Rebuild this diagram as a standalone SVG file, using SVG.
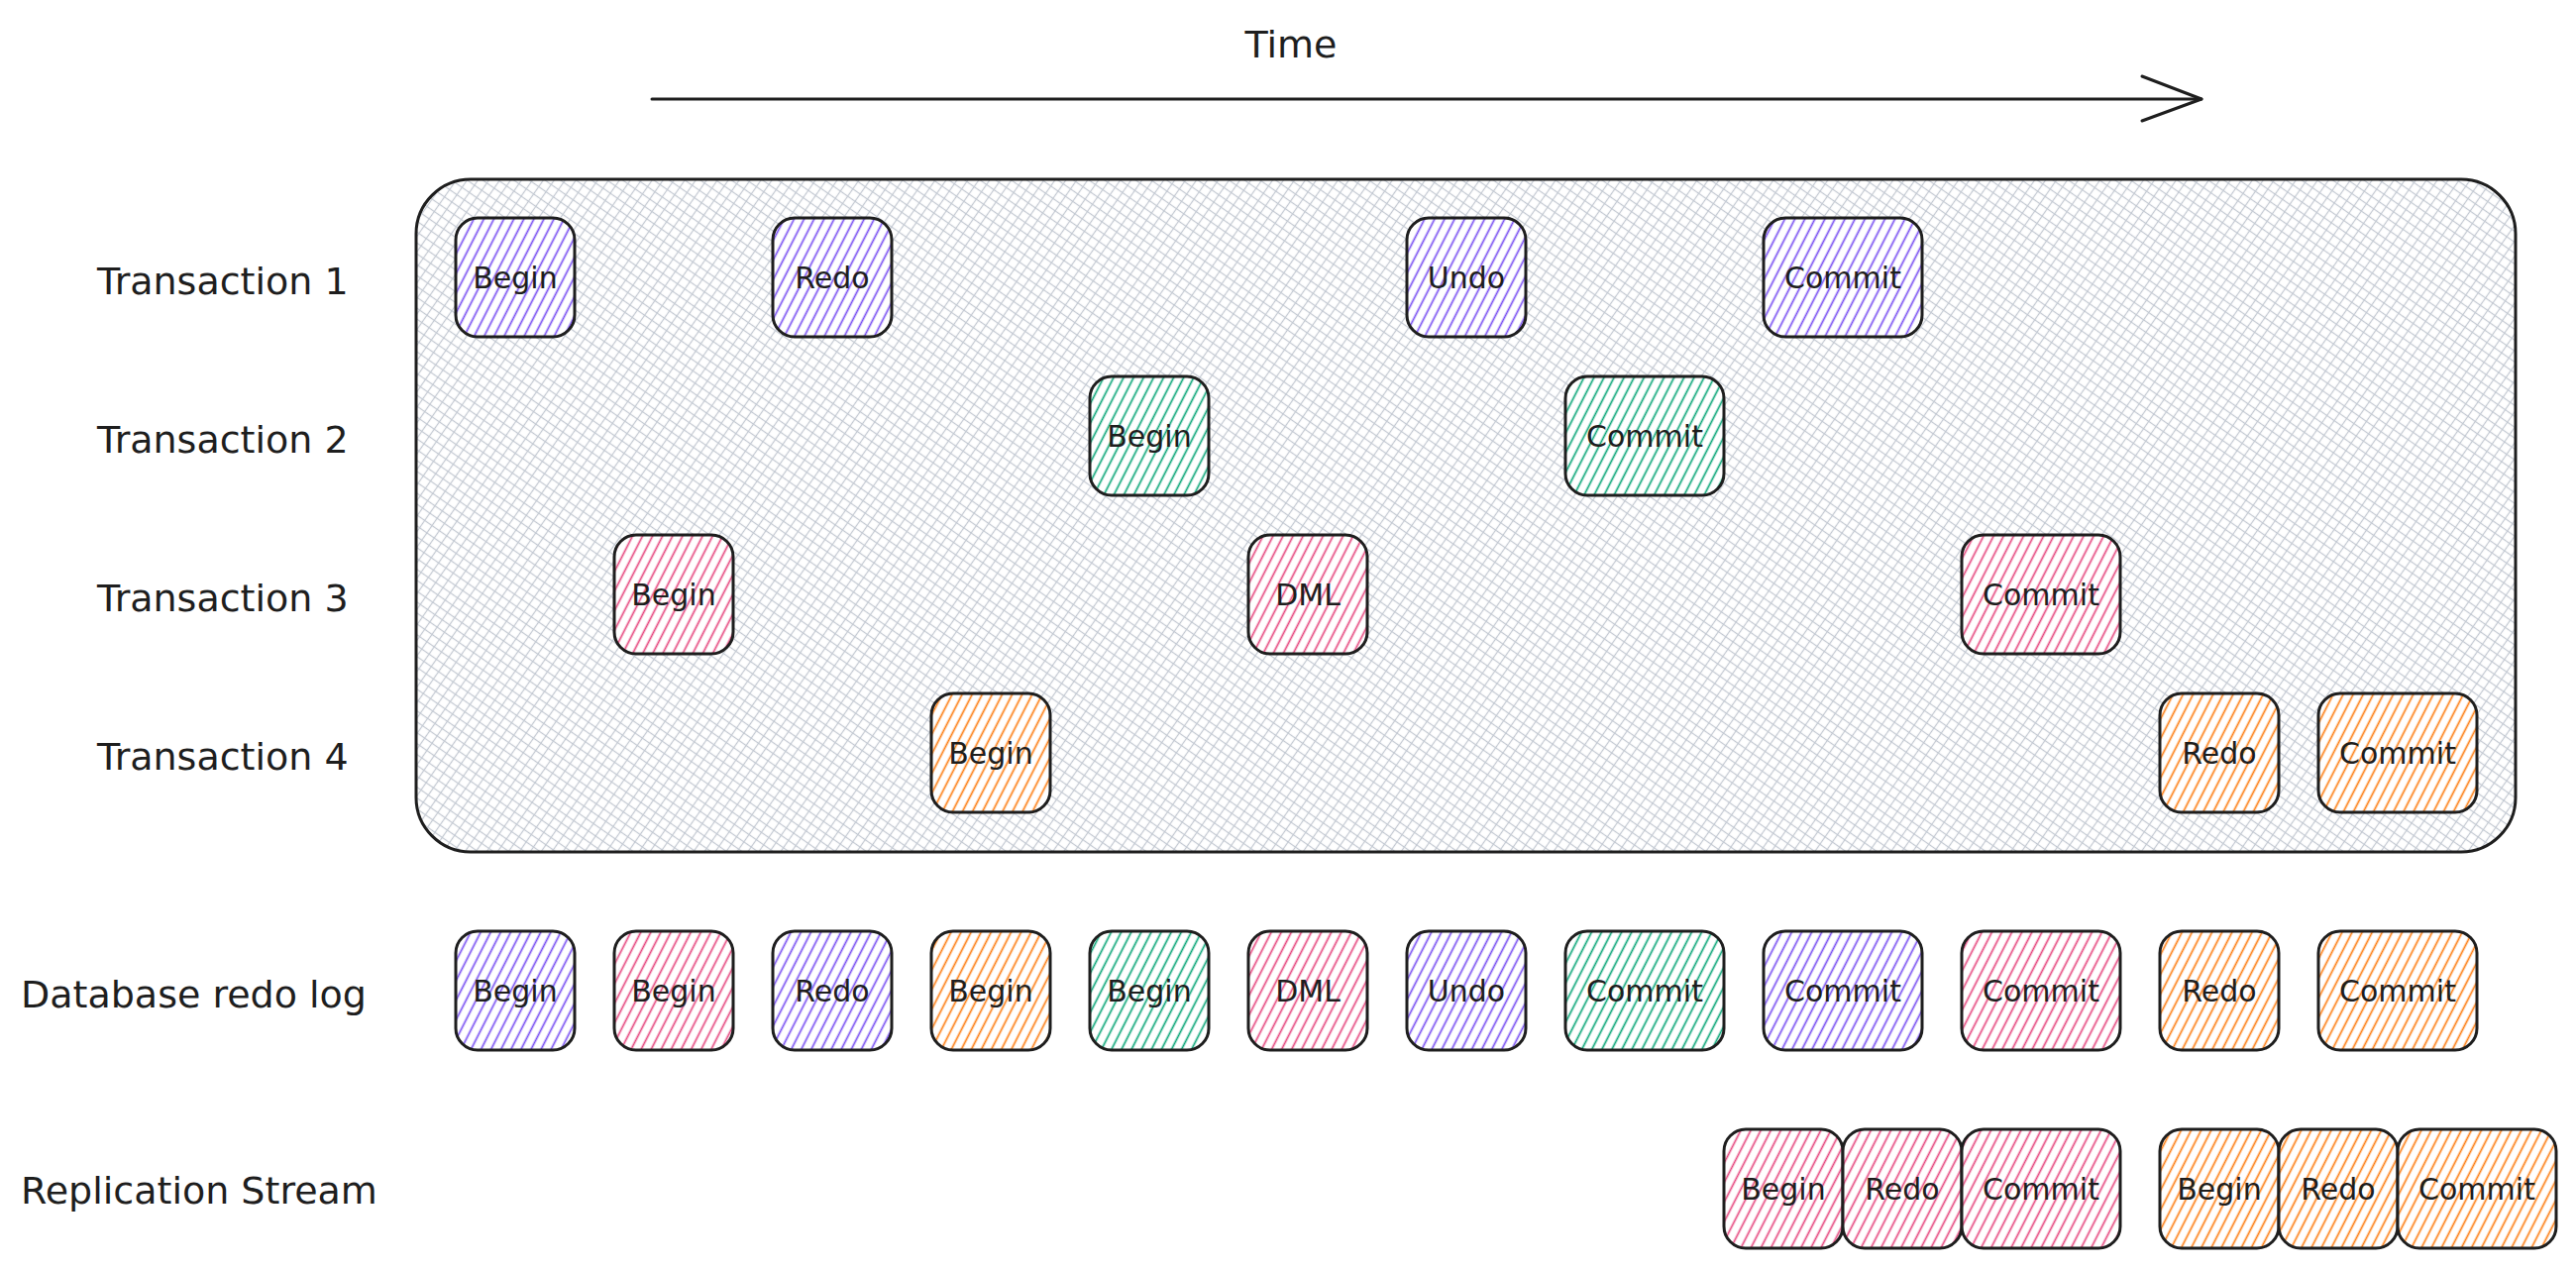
<svg xmlns="http://www.w3.org/2000/svg" width="2600" height="1280" viewBox="0 0 2600 1280">
<defs>
<style>
text{font-family:"DejaVu Sans","Liberation Sans",sans-serif;fill:#1e1e1e}
.lbl{font-size:38px}
.bt{font-size:30px;text-anchor:middle}
.box{stroke:#1e1e1e;stroke-width:3;stroke-linejoin:round}
.p{fill:url(#hP)}
.g{fill:url(#hG)}
.k{fill:url(#hK)}
.o{fill:url(#hO)}
.conn{stroke:#1e1e1e;stroke-width:3;fill:none;stroke-linecap:round}
</style>
<pattern id="hP" width="9" height="9" patternUnits="userSpaceOnUse" patternTransform="rotate(27)"><rect width="9" height="9" fill="#fff"/><line x1="4.5" y1="0" x2="4.5" y2="9" stroke="#7950f2" stroke-width="1.7"/></pattern>
<pattern id="hG" width="9" height="9" patternUnits="userSpaceOnUse" patternTransform="rotate(27)"><rect width="9" height="9" fill="#fff"/><line x1="4.5" y1="0" x2="4.5" y2="9" stroke="#0ca678" stroke-width="1.7"/></pattern>
<pattern id="hK" width="9" height="9" patternUnits="userSpaceOnUse" patternTransform="rotate(27)"><rect width="9" height="9" fill="#fff"/><line x1="4.5" y1="0" x2="4.5" y2="9" stroke="#e64980" stroke-width="1.7"/></pattern>
<pattern id="hO" width="9" height="9" patternUnits="userSpaceOnUse" patternTransform="rotate(27)"><rect width="9" height="9" fill="#fff"/><line x1="4.5" y1="0" x2="4.5" y2="9" stroke="#fd7e14" stroke-width="1.7"/></pattern>
<pattern id="xh" width="9" height="9" patternUnits="userSpaceOnUse" patternTransform="rotate(35)"><rect width="9" height="9" fill="#fff"/><line x1="0" y1="4.5" x2="9" y2="4.5" stroke="#c3c9d2" stroke-width="1.2"/><line x1="4.5" y1="0" x2="4.5" y2="9" stroke="#c3c9d2" stroke-width="1.2"/></pattern>
<marker id="arr" viewBox="0 0 64 50" refX="62" refY="25" markerWidth="64" markerHeight="50" markerUnits="userSpaceOnUse" orient="auto"><polyline points="2,2 62,25 2,47" fill="none" stroke="#1e1e1e" stroke-width="3" stroke-linecap="round" stroke-linejoin="round"/></marker>
</defs>
<rect width="2600" height="1280" fill="#fff"/>

<g id="time-label"><text class="lbl" x="1303" y="58" text-anchor="middle">Time</text></g>

<g id="connectors">
<line class="conn" x1="658" y1="100" x2="2222" y2="100" marker-end="url(#arr)"/>
</g>

<g id="transactions-frame"><rect x="420" y="181" width="2119" height="679" rx="55" fill="url(#xh)" class="box"/></g>

<g id="labels">
<text class="lbl" x="98" y="297">Transaction 1</text>
<text class="lbl" x="98" y="457">Transaction 2</text>
<text class="lbl" x="98" y="617">Transaction 3</text>
<text class="lbl" x="98" y="777">Transaction 4</text>
<text class="lbl" x="21" y="1017">Database redo log</text>
<text class="lbl" x="21" y="1215">Replication Stream</text>
</g>

<g id="t1-begin"><rect class="box p" x="460" y="220" width="120" height="120" rx="22"/><text class="bt" x="520" y="291">Begin</text></g>
<g id="t1-redo"><rect class="box p" x="780" y="220" width="120" height="120" rx="22"/><text class="bt" x="840" y="291">Redo</text></g>
<g id="t1-undo"><rect class="box p" x="1420" y="220" width="120" height="120" rx="22"/><text class="bt" x="1480" y="291">Undo</text></g>
<g id="t1-commit"><rect class="box p" x="1780" y="220" width="160" height="120" rx="22"/><text class="bt" x="1860" y="291">Commit</text></g>

<g id="t2-begin"><rect class="box g" x="1100" y="380" width="120" height="120" rx="22"/><text class="bt" x="1160" y="451">Begin</text></g>
<g id="t2-commit"><rect class="box g" x="1580" y="380" width="160" height="120" rx="22"/><text class="bt" x="1660" y="451">Commit</text></g>

<g id="t3-begin"><rect class="box k" x="620" y="540" width="120" height="120" rx="22"/><text class="bt" x="680" y="611">Begin</text></g>
<g id="t3-dml"><rect class="box k" x="1260" y="540" width="120" height="120" rx="22"/><text class="bt" x="1320" y="611">DML</text></g>
<g id="t3-commit"><rect class="box k" x="1980" y="540" width="160" height="120" rx="22"/><text class="bt" x="2060" y="611">Commit</text></g>

<g id="t4-begin"><rect class="box o" x="940" y="700" width="120" height="120" rx="22"/><text class="bt" x="1000" y="771">Begin</text></g>
<g id="t4-redo"><rect class="box o" x="2180" y="700" width="120" height="120" rx="22"/><text class="bt" x="2240" y="771">Redo</text></g>
<g id="t4-commit"><rect class="box o" x="2340" y="700" width="160" height="120" rx="22"/><text class="bt" x="2420" y="771">Commit</text></g>

<g id="log-1"><rect class="box p" x="460" y="940" width="120" height="120" rx="22"/><text class="bt" x="520" y="1011">Begin</text></g>
<g id="log-2"><rect class="box k" x="620" y="940" width="120" height="120" rx="22"/><text class="bt" x="680" y="1011">Begin</text></g>
<g id="log-3"><rect class="box p" x="780" y="940" width="120" height="120" rx="22"/><text class="bt" x="840" y="1011">Redo</text></g>
<g id="log-4"><rect class="box o" x="940" y="940" width="120" height="120" rx="22"/><text class="bt" x="1000" y="1011">Begin</text></g>
<g id="log-5"><rect class="box g" x="1100" y="940" width="120" height="120" rx="22"/><text class="bt" x="1160" y="1011">Begin</text></g>
<g id="log-6"><rect class="box k" x="1260" y="940" width="120" height="120" rx="22"/><text class="bt" x="1320" y="1011">DML</text></g>
<g id="log-7"><rect class="box p" x="1420" y="940" width="120" height="120" rx="22"/><text class="bt" x="1480" y="1011">Undo</text></g>
<g id="log-8"><rect class="box g" x="1580" y="940" width="160" height="120" rx="22"/><text class="bt" x="1660" y="1011">Commit</text></g>
<g id="log-9"><rect class="box p" x="1780" y="940" width="160" height="120" rx="22"/><text class="bt" x="1860" y="1011">Commit</text></g>
<g id="log-10"><rect class="box k" x="1980" y="940" width="160" height="120" rx="22"/><text class="bt" x="2060" y="1011">Commit</text></g>
<g id="log-11"><rect class="box o" x="2180" y="940" width="120" height="120" rx="22"/><text class="bt" x="2240" y="1011">Redo</text></g>
<g id="log-12"><rect class="box o" x="2340" y="940" width="160" height="120" rx="22"/><text class="bt" x="2420" y="1011">Commit</text></g>

<g id="rep-1"><rect class="box k" x="1740" y="1140" width="120" height="120" rx="22"/><text class="bt" x="1800" y="1211">Begin</text></g>
<g id="rep-2"><rect class="box k" x="1860" y="1140" width="120" height="120" rx="22"/><text class="bt" x="1920" y="1211">Redo</text></g>
<g id="rep-3"><rect class="box k" x="1980" y="1140" width="160" height="120" rx="22"/><text class="bt" x="2060" y="1211">Commit</text></g>
<g id="rep-4"><rect class="box o" x="2180" y="1140" width="120" height="120" rx="22"/><text class="bt" x="2240" y="1211">Begin</text></g>
<g id="rep-5"><rect class="box o" x="2300" y="1140" width="120" height="120" rx="22"/><text class="bt" x="2360" y="1211">Redo</text></g>
<g id="rep-6"><rect class="box o" x="2420" y="1140" width="160" height="120" rx="22"/><text class="bt" x="2500" y="1211">Commit</text></g>
</svg>
